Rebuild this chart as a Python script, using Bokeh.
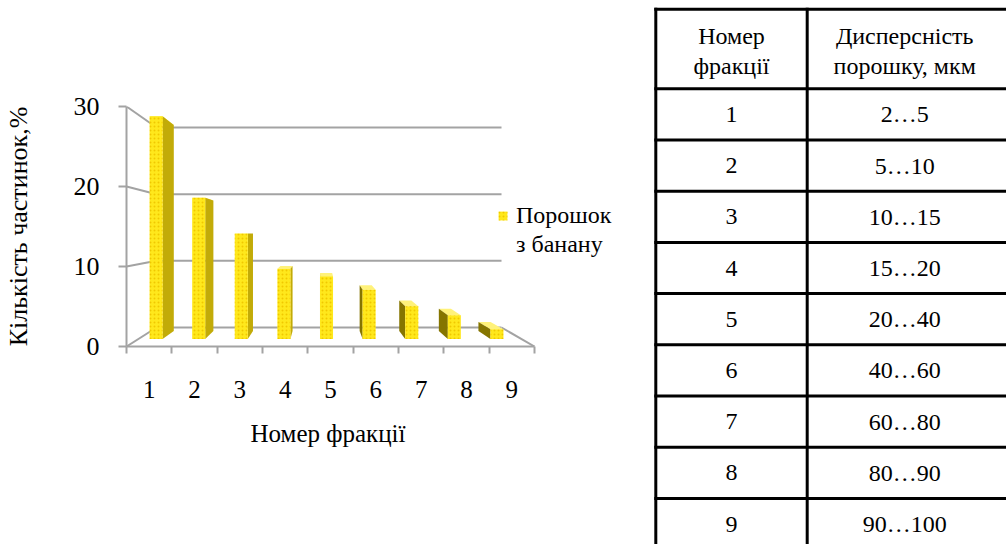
from bokeh.plotting import figure
from bokeh.models import Range1d, FixedTicker, Legend, LegendItem, Title
from bokeh.layouts import row, column
from bokeh.embed import file_html
from bokeh.resources import INLINE
from bokeh.core.properties import value

# ---------------- data ----------------
fractions = ["1", "2", "3", "4", "5", "6", "7", "8", "9"]
particle_share = [29.8, 18.9, 14.1, 9.4, 8.4, 6.6, 4.4, 3.2, 1.3]
y_ticks = [0, 10, 20, 30]
series_name = ["Порошок", "з банану"]
x_title = "Номер фракції"
y_title = "Кількість частинок,%"

table_header_col1 = ["Номер", "фракції"]
table_header_col2 = ["Дисперсність", "порошку, мкм"]
table_fraction = ["1", "2", "3", "4", "5", "6", "7", "8", "9"]
table_dispersity = ["2…5", "5…10", "10…15", "15…20", "20…40",
                    "40…60", "60…80", "80…90", "90…100"]

FONT = "Liberation Serif"
GRID = "#a3a3a3"

# ------------- pseudo-3D projection (data units of the front plane) -------------
def proj(u, v, d):
    """u: category position, v: value, d: depth 0 (front) .. 1 (back wall)."""
    return u + d * (0.662 - 0.1544 * u), v + d * (2.375 - 0.1667 * v)

def shift(u):
    return 0.662 - 0.1544 * u

n = len(fractions)
ymax = y_ticks[-1]

FRAME_W = 512          # frame also holds the legend; the axis is bounded to the categories
AXIS_W = 408
x_end = n * FRAME_W / AXIS_W

p = figure(frame_width=FRAME_W, frame_height=240,
           min_border_left=125, min_border_right=3,
           min_border_top=106, min_border_bottom=198,
           x_range=Range1d(0, x_end), y_range=Range1d(0, ymax),
           output_backend="svg", toolbar_location=None,
           outline_line_color=None, background_fill_color="white",
           border_fill_color="white")
p.grid.visible = False

# back wall gridlines, left wall connectors, floor edge
gx0, gy0, gx1, gy1 = [], [], [], []
for t in y_ticks:
    a = proj(0, t, 1); b = proj(n, t, 1)
    gx0.append(a[0]); gy0.append(a[1]); gx1.append(b[0]); gy1.append(b[1])
    a = proj(0, t, 0); b = proj(0, t, 1)
    gx0.append(a[0]); gy0.append(a[1]); gx1.append(b[0]); gy1.append(b[1])
a = proj(n, 0, 0); b = proj(n, 0, 1)
gx0.append(a[0]); gy0.append(a[1]); gx1.append(b[0]); gy1.append(b[1])
p.segment(gx0, gy0, gx1, gy1, line_color=GRID, line_width=2)

# bars
d0, d1, hw, off = 0.39, 0.82, 0.153, 0.42
fx, fy, sx, sy, scol, tx, ty = [], [], [], [], [], [], []
for i, v in enumerate(particle_share):
    uc = i + off
    u0, u1 = uc - hw, uc + hw
    pts = [proj(u0, 0, d0), proj(u1, 0, d0), proj(u1, v, d0), proj(u0, v, d0)]
    fx.append([q[0] for q in pts]); fy.append([q[1] for q in pts])
    ue = u1 if shift(u1) > 0 else u0
    pts = [proj(ue, 0, d0), proj(ue, 0, d1), proj(ue, v, d1), proj(ue, v, d0)]
    sx.append([q[0] for q in pts]); sy.append([q[1] for q in pts])
    scol.append("#c2ab08" if shift(u1) > 0 else "#857500")
    pts = [proj(u0, v, d0), proj(u1, v, d0), proj(u1, v, d1), proj(u0, v, d1)]
    tx.append([q[0] for q in pts]); ty.append([q[1] for q in pts])

p.patches(tx, ty, fill_color="#fff27a", line_color=None)
p.patches(sx, sy, fill_color=scol, line_color=None)
front = p.patches(fx, fy, fill_color="#ffe81c", line_color=None,
                  hatch_pattern="dot", hatch_color="#f0c800",
                  hatch_scale=4, hatch_weight=1.2)
blank = p.patches([], [], fill_alpha=0, line_alpha=0)

# axes
xa = p.xaxis[0]
xa.bounds = (0, n)
xa.ticker = FixedTicker(ticks=[i + 0.5 for i in range(n)],
                        minor_ticks=list(range(n + 1)))
xa.major_label_overrides = {i + 0.5: fractions[i] for i in range(n)}
xa.major_tick_out = 0
xa.major_tick_in = 0
xa.minor_tick_out = 7
xa.minor_tick_in = 0
xa.minor_tick_line_color = GRID
xa.minor_tick_line_width = 2
xa.axis_line_color = GRID
xa.axis_line_width = 2
xa.major_label_standoff = 27
xa.major_label_text_font = FONT
xa.major_label_text_font_size = "25px"
xa.major_label_text_color = "black"

# x title, centred under the category span (not under the wider frame)
p.add_layout(Title(text=x_title, align="left", offset=124, standoff=34,
                   text_font=FONT, text_font_size="25px",
                   text_font_style="normal", text_color="black"), "below")

ya = p.yaxis[0]
ya.ticker = FixedTicker(ticks=y_ticks, minor_ticks=[])
ya.major_tick_out = 8
ya.major_tick_in = 0
ya.major_tick_line_color = GRID
ya.major_tick_line_width = 2
ya.axis_line_color = GRID
ya.axis_line_width = 2
ya.major_label_standoff = 19
ya.major_label_text_font = FONT
ya.major_label_text_font_size = "26px"
ya.major_label_text_color = "black"
ya.axis_label = y_title
ya.axis_label_text_font = FONT
ya.axis_label_text_font_size = "26px"
ya.axis_label_text_font_style = "normal"
ya.axis_label_text_color = "black"
ya.axis_label_standoff = 38

legend = Legend(items=[LegendItem(label=series_name[0], renderers=[front]),
                       LegendItem(label=series_name[1], renderers=[blank])],
                location=(371, 88), border_line_color=None,
                background_fill_alpha=0, padding=0, margin=0, spacing=2,
                glyph_width=11, glyph_height=11, label_standoff=8,
                label_height=26,
                label_text_font=FONT, label_text_font_size="24px",
                label_text_color="black")
p.add_layout(legend, "center")

# ---------------- table ----------------
t = figure(width=366, height=544, x_range=Range1d(0, 366), y_range=Range1d(544, 0),
           min_border=0, x_axis_type=None, y_axis_type=None,
           toolbar_location=None, output_backend="svg",
           outline_line_color=None, background_fill_color="white",
           border_fill_color="white")
t.grid.visible = False

x_left, x_mid, x_right = 14.3, 165.7, 372
top, header_h, row_h = 8.7, 79.6, 51.2
hlines = [top, top + header_h] + [top + header_h + row_h * (k + 1) for k in range(len(table_fraction))]
t.segment([x_left - 1.5] * len(hlines), hlines, [x_right] * len(hlines), hlines,
          line_color="black", line_width=3)
t.segment([x_left, x_mid], [top - 1.5] * 2, [x_left, x_mid], [560] * 2,
          line_color="black", line_width=3)

c1 = (x_left + x_mid) / 2
c2 = x_mid + 97.5
hy = [top + 27, top + 57]
TFS = "24px"
t.text([c1, c1], hy, text=table_header_col1, text_align="center",
       text_baseline="middle", text_font=value(FONT), text_font_size=TFS,
       text_color="black")
t.text([c2, c2], hy, text=table_header_col2, text_align="center",
       text_baseline="middle", text_font=value(FONT), text_font_size=TFS,
       text_color="black")
ry = [top + header_h + row_h * (k + 0.5) for k in range(len(table_fraction))]
t.text([c1] * len(ry), ry, text=table_fraction, text_align="center",
       text_baseline="middle", text_font=value(FONT), text_font_size=TFS,
       text_color="black")
t.text([c2] * len(ry), ry, text=table_dispersity, text_align="center",
       text_baseline="middle", text_font=value(FONT), text_font_size=TFS,
       text_color="black")

layout = row(p, column(t), spacing=0)
open("out.html", "w").write(file_html(layout, INLINE))
